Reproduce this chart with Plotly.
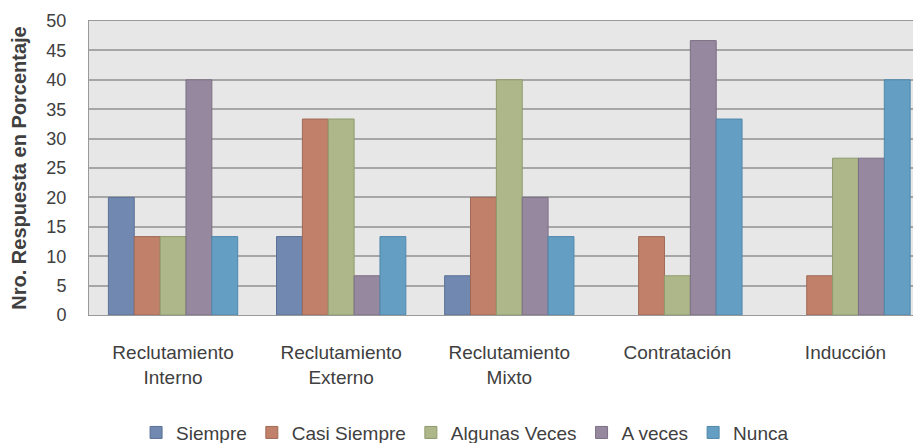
import plotly.graph_objects as go

categories = ["Reclutamiento<br>Interno", "Reclutamiento<br>Externo", "Reclutamiento<br>Mixto",
              "Contratación", "Inducción"]
series_names = ["Siempre", "Casi Siempre", "Algunas Veces", "A veces", "Nunca"]
siempre = [20, 13.33, 6.67, 0, 0]
casi_siempre = [13.33, 33.33, 20, 13.33, 6.67]
algunas_veces = [13.33, 33.33, 40, 6.67, 26.67]
a_veces = [40, 6.67, 20, 46.67, 26.67]
nunca = [13.33, 13.33, 13.33, 33.33, 40]
y_ticks = [0, 5, 10, 15, 20, 25, 30, 35, 40, 45, 50]

values = [siempre, casi_siempre, algunas_veces, a_veces, nunca]
fills = ["#7189b0", "#c0806a", "#adb78a", "#96889e", "#649ec2"]
lines = ["#5a7096", "#a06a57", "#8f9a6e", "#7c6f84", "#5088ab"]

FONT = "Liberation Sans, Arial, sans-serif"

fig = go.Figure()
for name, vals, fc, lc in zip(series_names, values, fills, lines):
    fig.add_trace(go.Bar(
        name=name, x=categories, y=vals,
        marker=dict(color=fc, line=dict(color=lc, width=[1 if v > 0 else 0 for v in vals])),
    ))

# page body has an 8px margin, so the figure is sized/offset to compensate
fig.update_layout(
    width=913, height=435,
    margin=dict(l=81, r=0, t=13, b=128, autoexpand=False),
    paper_bgcolor="white",
    plot_bgcolor="#e7e7e7",
    barmode="group",
    bargap=0.2308,
    bargroupgap=0,
    font=dict(family=FONT, color="#404040", size=16),
    showlegend=True,
    legend=dict(orientation="h", x=0.452, xanchor="center",
                y=-0.40, yanchor="middle",
                font=dict(size=19, family=FONT, color="#404040"),
                itemwidth=30, tracegroupgap=0,
                traceorder="normal"),
    xaxis=dict(
        range=[-0.5, 4.449],
        showgrid=False, zeroline=False, automargin=False,
        ticks="outside", ticklen=20, tickcolor="rgba(0,0,0,0)",
        tickfont=dict(size=19, family=FONT, color="#404040"),
        showline=True, linecolor="#999999", linewidth=1, mirror=True,
    ),
    yaxis=dict(
        range=[0, 50], tickvals=y_ticks, automargin=False,
        showgrid=True, gridcolor="#a6a6a6", gridwidth=1.5,
        zeroline=False,
        ticks="outside", ticklen=18, tickcolor="rgba(0,0,0,0)",
        tickfont=dict(size=18, family=FONT, color="#404040"),
        showline=True, linecolor="#999999", linewidth=1, mirror=True,
        title=dict(text="<b>Nro. Respuesta en Porcentaje</b>",
                   font=dict(size=20, family=FONT, color="#404040"), standoff=14),
    ),
)

fig.write_html("out.html")
